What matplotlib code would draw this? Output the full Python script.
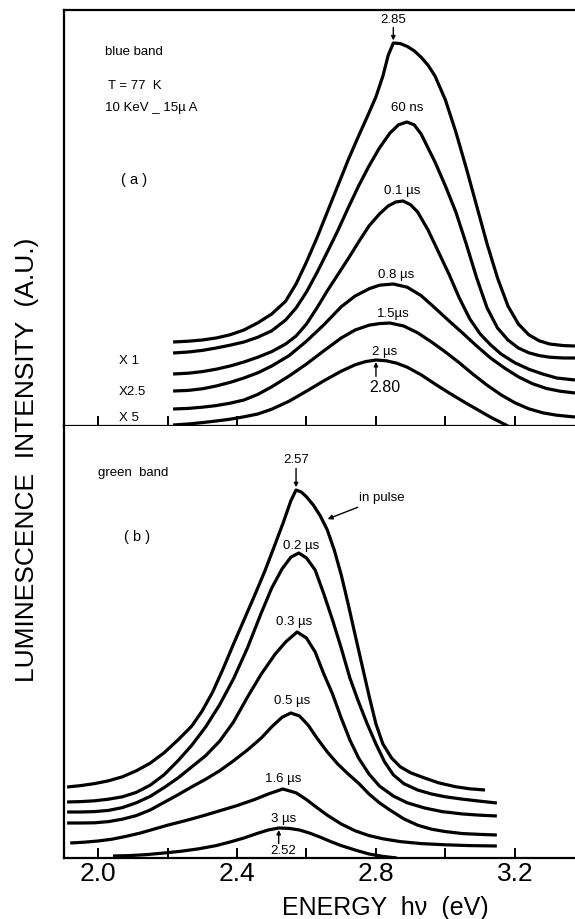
import numpy as np
import matplotlib
matplotlib.use("Agg")
import matplotlib.pyplot as plt

plt.rcParams['font.family'] = ['Liberation Sans', 'DejaVu Sans']

# --- (a) blue band, T = 77 K, 10 keV - 15 uA ---
blue_labels = ["in pulse", "60 ns", "0.1 µs", "0.8 µs", "1.5µs", "2 µs"]
blue_E = [
    [2.216, 2.26, 2.30, 2.34, 2.38, 2.42, 2.46, 2.50, 2.54, 2.57, 2.60, 2.63, 2.66, 2.69, 2.72,
     2.75, 2.78, 2.80, 2.82, 2.835, 2.85, 2.87, 2.89, 2.91, 2.93, 2.95, 2.97, 3.00, 3.03, 3.06,
     3.09, 3.12, 3.15, 3.18, 3.21, 3.24, 3.27, 3.30, 3.34, 3.373],
    [2.216, 2.26, 2.30, 2.34, 2.38, 2.42, 2.46, 2.50, 2.54, 2.57, 2.60, 2.63, 2.66, 2.69, 2.72,
     2.75, 2.78, 2.81, 2.84, 2.865, 2.889, 2.91, 2.93, 2.95, 2.97, 3.00, 3.03, 3.06, 3.09,
     3.12, 3.15, 3.18, 3.21, 3.24, 3.27, 3.30, 3.34, 3.373],
    [2.216, 2.26, 2.30, 2.34, 2.38, 2.42, 2.46, 2.50, 2.54, 2.57, 2.60, 2.63, 2.66, 2.69, 2.72,
     2.75, 2.78, 2.81, 2.835, 2.857, 2.878, 2.90, 2.92, 2.95, 2.98, 3.01, 3.04, 3.07, 3.10,
     3.13, 3.16, 3.20, 3.24, 3.28, 3.32, 3.373],
    [2.216, 2.26, 2.30, 2.34, 2.38, 2.42, 2.46, 2.50, 2.55, 2.60, 2.65, 2.70, 2.74, 2.78, 2.81,
     2.85, 2.89, 2.93, 2.97, 3.01, 3.05, 3.09, 3.13, 3.17, 3.21, 3.25, 3.29, 3.33, 3.373],
    [2.216, 2.26, 2.30, 2.34, 2.38, 2.42, 2.46, 2.50, 2.55, 2.60, 2.65, 2.70, 2.74, 2.78, 2.81,
     2.84, 2.88, 2.92, 2.96, 3.00, 3.04, 3.08, 3.12, 3.16, 3.20, 3.24, 3.28, 3.32, 3.373],
    [2.216, 2.26, 2.30, 2.34, 2.38, 2.42, 2.46, 2.50, 2.55, 2.60, 2.65, 2.70, 2.74, 2.77, 2.80,
     2.83, 2.86, 2.89, 2.93, 2.97, 3.01, 3.05, 3.09, 3.13, 3.18],
]
blue_I = [
    [21, 21.2, 21.5, 22, 22.8, 24, 25.8, 28, 31.2, 35.5, 41, 47, 53.5, 60, 66.5,
     72.5, 78.3, 82.3, 87.5, 92.6, 95.75, 95.6, 94.9, 93.8, 92.2, 90.2, 87.5, 81.5, 73.5, 64.5,
     55, 45.5, 37, 30, 25.5, 22.8, 21.3, 20.5, 20.1, 20],
    [18.25, 18.5, 18.9, 19.5, 20.2, 21, 22.2, 23.8, 26.5, 29.5, 33.5, 38.3, 43.5, 48.8, 54.5,
     60, 65, 69.5, 73.2, 75.3, 76, 75.3, 73, 69.5, 66, 60, 53.5, 45.5, 37,
     29.5, 24.5, 21.5, 19.5, 18.3, 17.6, 17.2, 17, 17],
    [13, 13.2, 13.6, 14.2, 15, 16, 17.2, 18.6, 20.5, 22.5, 25.5, 29.5, 33.8, 37.8, 41.8,
     46, 50, 53, 55, 56, 56.25, 55.3, 53.5, 49, 43.5, 38, 32, 26.8, 23,
     20.3, 18, 15.8, 14.2, 13, 12, 11.5],
    [8.75, 8.9, 9.3, 10, 10.9, 12, 13.3, 15, 17.6, 21.2, 25.3, 29.8, 32.5, 34.3, 35.2,
     35.5, 34.7, 32.6, 29.5, 26.3, 23.2, 20, 17, 14.5, 12.3, 10.6, 9.4, 8.7, 8.25],
    [4.25, 4.4, 4.7, 5.1, 5.7, 6.5, 7.9, 9.8, 12.5, 15.5, 18.8, 22, 24, 25.2, 25.6,
     25.75, 25, 23.3, 21, 18.5, 15.8, 12.9, 10.2, 7.8, 5.8, 4.3, 3.3, 2.7, 2.25],
    [0.25, 0.5, 0.85, 1.25, 1.7, 2.3, 3, 4.2, 6.2, 8.7, 11.3, 13.7, 15.3, 16.1, 16.5,
     16.3, 15.7, 14.7, 12.8, 10.5, 8.3, 6.2, 4.2, 2.2, 0],
]
blue_peak_hi, blue_peak_lo = 2.85, 2.80

# --- (b) green band ---
green_labels = ["in pulse", "0.2 µs", "0.3 µs", "0.5 µs", "1.6 µs", "3 µs"]
green_E = [
    [1.911, 1.95, 1.99, 2.03, 2.07, 2.11, 2.15, 2.19, 2.23, 2.27, 2.30, 2.33, 2.36, 2.39, 2.42,
     2.45, 2.48, 2.51, 2.535, 2.555, 2.57, 2.585, 2.60, 2.62, 2.64, 2.66, 2.68, 2.70, 2.72,
     2.74, 2.76, 2.78, 2.80, 2.82, 2.845, 2.87, 2.90, 2.94, 2.98, 3.03, 3.07, 3.114],
    [1.911, 1.95, 1.99, 2.03, 2.07, 2.11, 2.15, 2.19, 2.23, 2.27, 2.31, 2.35, 2.39, 2.43, 2.47,
     2.50, 2.53, 2.555, 2.578, 2.60, 2.625, 2.65, 2.675, 2.70, 2.725, 2.75, 2.775, 2.80,
     2.825, 2.85, 2.88, 2.92, 2.96, 3.00, 3.05, 3.10, 3.148],
    [1.911, 1.95, 1.99, 2.03, 2.07, 2.11, 2.15, 2.19, 2.23, 2.27, 2.31, 2.35, 2.39, 2.43, 2.47,
     2.51, 2.54, 2.573, 2.60, 2.625, 2.65, 2.675, 2.70, 2.725, 2.75, 2.78, 2.81, 2.85, 2.89,
     2.94, 2.99, 3.05, 3.10, 3.148],
    [1.911, 1.95, 1.99, 2.03, 2.07, 2.11, 2.15, 2.19, 2.23, 2.27, 2.31, 2.35, 2.39, 2.43, 2.47,
     2.50, 2.53, 2.555, 2.58, 2.605, 2.63, 2.66, 2.69, 2.72, 2.75, 2.78, 2.81, 2.84, 2.88,
     2.92, 2.96, 3.00, 3.05, 3.10, 3.148],
    [1.92, 1.96, 2.00, 2.04, 2.08, 2.12, 2.16, 2.20, 2.25, 2.30, 2.35, 2.40, 2.45, 2.49, 2.532,
     2.57, 2.60, 2.63, 2.66, 2.70, 2.74, 2.78, 2.82, 2.87, 2.93, 3.00, 3.07, 3.148],
    [2.043, 2.09, 2.14, 2.19, 2.24, 2.29, 2.34, 2.38, 2.42, 2.46, 2.49, 2.52, 2.55, 2.58, 2.61,
     2.64, 2.67, 2.70, 2.74, 2.78, 2.82, 2.86],
]
green_I = [
    [17.75, 18.1, 18.6, 19.3, 20.3, 21.8, 23.7, 26.3, 29.5, 33, 36.8, 41.5, 47.3, 53.5, 59.5,
     65.5, 71.7, 78.5, 84.3, 89.3, 92, 91.5, 90.3, 88.2, 85.5, 82, 77, 70.8, 63.5,
     55.8, 48.2, 40.6, 33.5, 28.5, 25, 22.8, 21.3, 20, 18.8, 17.8, 17.3, 17],
    [14, 14.1, 14.3, 14.7, 15.3, 16.4, 18.2, 20.8, 24.3, 28.2, 32.8, 38.3, 44.8, 52.5, 61.3,
     67.5, 72.3, 75.2, 76.25, 75, 72, 66, 59.5, 52.5, 45, 39, 33.5, 28.5,
     24, 20.8, 18.6, 17, 16, 15.3, 14.7, 14.2, 13.75],
    [11.5, 11.5, 11.6, 11.9, 12.6, 13.8, 15.4, 17.6, 20, 22.8, 25.6, 29.2, 34, 40.2, 46,
     51, 54, 56.5, 55, 51.5, 46, 41, 35, 29.5, 25, 21, 18, 15.5, 13.8,
     12.5, 11.6, 11, 10.7, 10.5],
    [8.75, 8.75, 8.8, 9.1, 9.7, 10.6, 12, 13.9, 15.8, 17.8, 19.7, 21.8, 24.3, 27, 30,
     32.8, 35.2, 36.25, 35.5, 33.2, 30, 26.5, 23.5, 21, 18.7, 16, 13.8, 12, 9.8,
     8.2, 7.2, 6.6, 6.1, 5.9, 5.75],
    [3.75, 3.95, 4.25, 4.7, 5.4, 6.2, 7.2, 8.2, 9.3, 10.5, 11.8, 13.1, 14.6, 16, 17.25,
     16.3, 14.6, 12.6, 10.7, 8.5, 6.8, 5.6, 4.8, 4.1, 3.6, 3.3, 3.1, 3],
    [0.5, 0.6, 0.85, 1.25, 1.7, 2.3, 3.1, 4, 5, 6.2, 7, 7.5, 7.4, 7, 6.2,
     5.2, 4.1, 3.1, 2, 1, 0.4, 0],
]
green_peak_hi, green_peak_lo = 2.57, 2.52

xticks = [2.0, 2.2, 2.4, 2.6, 2.8, 3.0, 3.2]
xticklabels = ["2.0", "", "2.4", "", "2.8", "", "3.2"]

fig = plt.figure(figsize=(5.75, 9.19), dpi=100)
ax_a = fig.add_axes([64 / 575, 1 - 426 / 919, 1 - 64 / 575, 416 / 919])
ax_b = fig.add_axes([64 / 575, 1 - 858 / 919, 1 - 64 / 575, 432 / 919])

lw = 2.3
for E, I in zip(blue_E, blue_I):
    ax_a.plot(E, I, color="black", lw=lw, solid_joinstyle="round", solid_capstyle="butt")
for E, I in zip(green_E, green_I):
    ax_b.plot(E, I, color="black", lw=lw, solid_joinstyle="round", solid_capstyle="butt")

for ax, top in ((ax_a, 104), (ax_b, 108)):
    ax.set_xlim(1.902, 3.373)
    ax.set_ylim(0, top)
    ax.set_yticks([])
    ax.set_xticks(xticks)
    ax.spines["right"].set_visible(False)
    for s in ("left", "top", "bottom"):
        ax.spines[s].set_linewidth(1.6)
    ax.tick_params(axis="x", direction="in", length=7, width=1.4, pad=3)
ax_b.spines["top"].set_visible(False)
ax_a.set_xticklabels([])
ax_b.set_xticklabels(xticklabels, fontsize=19)

small = 9.5
arrow = dict(arrowstyle="-|>", color="black", lw=1.0, mutation_scale=6, shrinkA=0, shrinkB=0)

# panel (a) annotations
ax_a.text(2.02, 93.5, "blue band", fontsize=small, va="center")
ax_a.text(2.03, 85, "T = 77  K", fontsize=small, va="center")
ax_a.text(2.02, 79.5, "10 KeV _ 15µ A", fontsize=small, va="center")
ax_a.text(2.105, 61.5, "( a )", fontsize=small + 1, va="center", ha="center")
ax_a.text(2.06, 16.25, "X 1", fontsize=small, va="center")
ax_a.text(2.06, 8.5, "X2.5", fontsize=small, va="center")
ax_a.text(2.06, 2.0, "X 5", fontsize=small, va="center")

ax_a.text(blue_peak_hi, 101.6, f"{blue_peak_hi:.2f}", ha="center", va="center", fontsize=small)
ax_a.annotate("", xy=(blue_peak_hi, 96.4), xytext=(blue_peak_hi, 99.6), arrowprops=arrow)
blue_pos = [None, (2.889, 79.5), (2.875, 58.7), (2.858, 37.7), (2.849, 28.0), (2.826, 18.4)]
for lab, pos in zip(blue_labels, blue_pos):
    if pos is not None:
        ax_a.text(pos[0], pos[1], lab, fontsize=small, ha="center", va="center")
ax_a.text(2.826, 9.6, f"{blue_peak_lo:.2f}", ha="center", va="center", fontsize=small + 2)
ax_a.annotate("", xy=(blue_peak_lo, 16.0), xytext=(blue_peak_lo, 12.4), arrowprops=arrow)

# panel (b) annotations
ax_b.text(2.0, 96.25, "green  band", fontsize=small, va="center")
ax_b.text(2.112, 80.25, "( b )", fontsize=small + 1, va="center", ha="center")
ax_b.text(green_peak_hi, 99.4, f"{green_peak_hi:.2f}", ha="center", va="center", fontsize=small)
ax_b.annotate("", xy=(green_peak_hi, 92.7), xytext=(green_peak_hi, 97.4), arrowprops=arrow)
ax_b.annotate(green_labels[0], xy=(2.657, 84.6), xytext=(2.75, 90),
              ha="left", va="center", fontsize=small,
              arrowprops=dict(arrowstyle="-|>", color="black", lw=1.0,
                              mutation_scale=7, shrinkA=1, shrinkB=1))
green_pos = [None, (2.584, 77.9), (2.564, 58.9), (2.558, 39.2), (2.532, 19.8), (2.535, 9.8)]
for lab, pos in zip(green_labels, green_pos):
    if pos is not None:
        ax_b.text(pos[0], pos[1], lab, fontsize=small, ha="center", va="center")
ax_b.text(2.532, 1.8, f"{green_peak_lo:.2f}", ha="center", va="center", fontsize=small)
ax_b.annotate("", xy=(green_peak_lo, 7.0), xytext=(green_peak_lo, 3.6), arrowprops=arrow)

ax_b.set_xlabel("ENERGY  hν  (eV)", fontsize=18)
ax_b.xaxis.set_label_coords(0.628, -0.087)
fig.text(27 / 575, 0.5, "LUMINESCENCE  INTENSITY  (A.U.)", rotation=90,
         fontsize=19, ha="center", va="center")

fig.savefig("out.png", dpi=100)
